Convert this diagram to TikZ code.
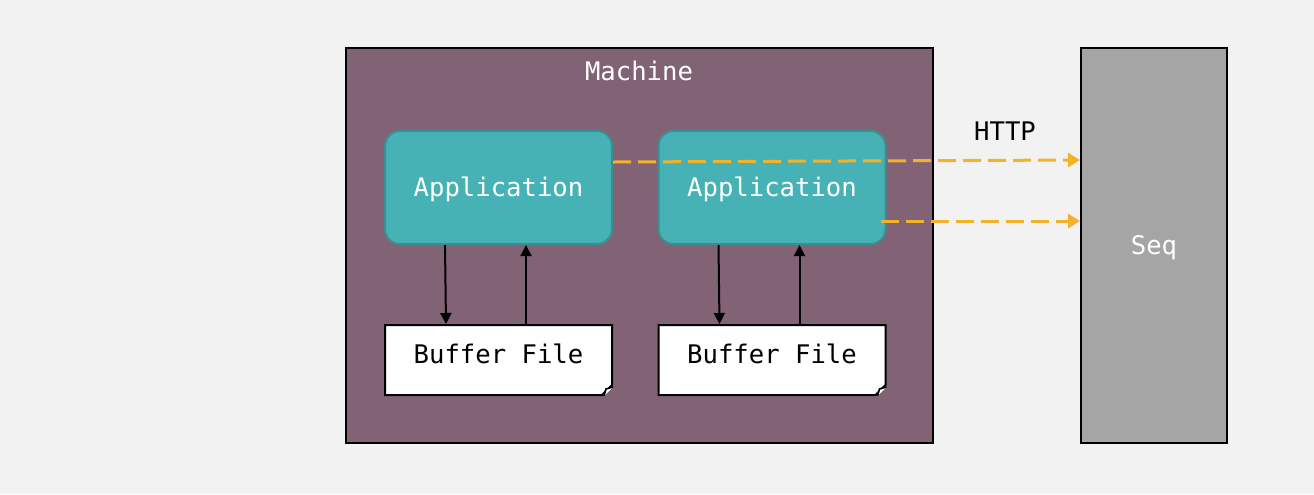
\documentclass[tikz,border=0pt]{standalone}
\usepackage{fontspec}
\setmonofont{DejaVu Sans Mono}
\usetikzlibrary{positioning, calc, shapes.misc, arrows.meta}

\definecolor{bgcol}{HTML}{F2F2F2}
\definecolor{machinecol}{HTML}{826376}
\definecolor{appcol}{HTML}{46B2B6}
\definecolor{appline}{HTML}{3A8F93}
\definecolor{seqcol}{HTML}{A5A5A5}
\definecolor{httpcol}{HTML}{F4B12A}

\begin{document}
\begin{tikzpicture}[x=0.5pt, y=-0.5pt, on grid,
   every node/.style={font=\ttfamily\fontsize{12.8}{15}\selectfont},
   machine/.style={draw, line width=1pt, fill=machinecol, minimum width=293.5pt, minimum height=197.5pt, inner sep=0pt},
   app/.style={draw=appline, line width=1pt, fill=appcol, rounded corners=7.5pt, minimum width=113.5pt, minimum height=56.5pt, text=white, inner sep=0pt, text height=9pt, text depth=0pt},
   buffer/.style={chamfered rectangle, chamfered rectangle corners=south east, chamfered rectangle xsep=2.5pt, chamfered rectangle ysep=2.5pt, draw, line width=1pt, fill=white, minimum width=113.5pt, minimum height=35pt, inner sep=0pt, text height=9.5pt, text depth=6.5pt},
   seqbox/.style={draw, line width=1pt, fill=seqcol, minimum width=73pt, minimum height=197.5pt, text=white, inner sep=0pt, text height=9pt, text depth=0pt},
   link/.style={line width=1pt, -{Triangle[length=5.5pt, width=5.5pt]}},
   http/.style={draw=httpcol, line width=1.5pt, dash pattern=on 9pt off 3.5pt, -{Triangle[length=6pt, width=7pt]}}]
   \fill[bgcol] (0,0) rectangle (1314,494);
   \useasboundingbox (0,0) rectangle (1314,494);

   \node[machine] (machine) at (639.5,245.5) {};
   \node[text=white] (machinelabel) at (639,71) {Machine};
   \node[seqbox] (seq) at (1154,245.5) {Seq};
   \node (httplabel) at (1005,131) {HTTP};

   \node[app] (app1) at (498.5,187.5) {Application};
   \node[buffer] (buf1) [below=86.25pt of app1] {Buffer File};
   \node[app] (app2) [right=136.75pt of app1] {Application};
   \node[buffer] (buf2) [below=86.25pt of app2] {Buffer File};

   % http lines go over the second application
   \draw[http] ([yshift=12.75pt]app1.east) -- ([yshift=42.75pt]seq.west);
   \draw[http] ([xshift=-3pt, yshift=-16.75pt]app2.east) -- ([yshift=12.25pt]seq.west);

   \foreach \b in {buf1, buf2} {
      \draw[line width=0.8pt, fill=white] ($(\b.south -| \b.east)+(-4.5pt,0)$) -- ++(1pt,3.5pt) -- ++(3.5pt,1pt);
   }

   \foreach \a/\b in {app1/buf1, app2/buf2} {
      \draw[link] ([xshift=-26.75pt]\a.south) -- ([xshift=-26.25pt]\b.north);
      \draw[link] ([xshift=13.75pt]\b.north) -- ([xshift=13.75pt]\a.south);
   }
\end{tikzpicture}
\end{document}
